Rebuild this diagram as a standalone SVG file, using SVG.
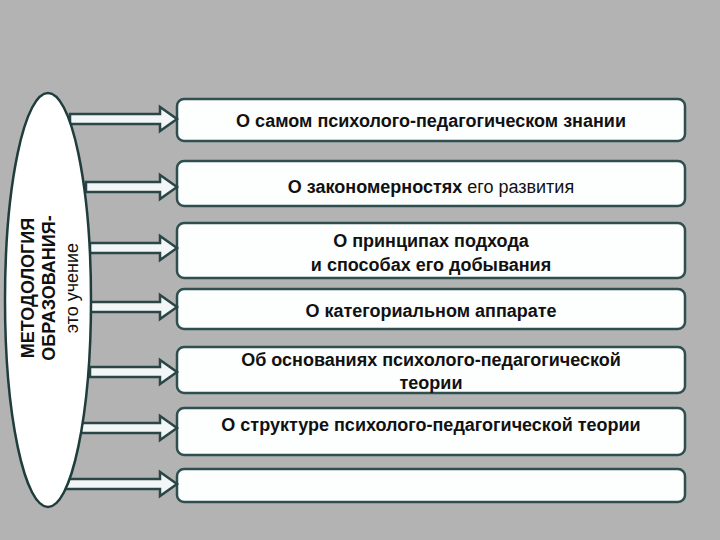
<svg xmlns="http://www.w3.org/2000/svg" width="720" height="540" viewBox="0 0 720 540">
<style>
.box{fill:#fdfefe;stroke:#2f4f4f;stroke-width:2.5}
.arr{fill:#f2f6f6;stroke:#2a4646;stroke-width:2.5;stroke-linejoin:miter}
text{font-family:"Liberation Sans",Arial,sans-serif;fill:#111;font-size:18px;text-anchor:middle;font-weight:bold}
.n{font-weight:normal}
</style>
<rect width="720" height="540" fill="#b3b3b3"/>
<g id="n1"><rect class="box" x="177" y="99" width="508" height="42" rx="7"/><text x="431" y="127">О самом психолого-педагогическом знании</text></g>
<g id="n2"><rect class="box" x="177" y="161" width="508" height="45" rx="7"/><text x="431" y="193" font-size="16">О закономерностях <tspan class="n">его развития</tspan></text></g>
<g id="n3"><rect class="box" x="177" y="223" width="508" height="55" rx="7"/><text x="431" y="247">О принципах подхода</text><text x="431" y="271">и способах его добывания</text></g>
<g id="n4"><rect class="box" x="177" y="289" width="508" height="40" rx="7"/><text x="431" y="317">О категориальном аппарате</text></g>
<g id="n5"><rect class="box" x="177" y="347" width="508" height="46" rx="7"/><text x="431" y="366">Об основаниях психолого-педагогической</text><text x="431" y="389">теории</text></g>
<g id="n6"><rect class="box" x="177" y="408" width="508" height="47" rx="7"/><text x="431" y="431">О структуре психолого-педагогической теории</text></g>
<g id="n7"><rect class="box" x="177" y="469" width="508" height="33" rx="7"/></g>
<g id="connectors">
<path class="arr" d="M70,114 H160 V107 L177,119 L160,131 V124 H70 Z"/>
<path class="arr" d="M86,182 H160 V175 L177,187 L160,199 V192 H86 Z"/>
<path class="arr" d="M90,243 H160 V236 L177,248 L160,260 V253 H90 Z"/>
<path class="arr" d="M90,302 H160 V295 L177,307 L160,319 V312 H90 Z"/>
<path class="arr" d="M90,367 H160 V360 L177,372 L160,384 V377 H90 Z"/>
<path class="arr" d="M78,423 H160 V416 L177,428 L160,440 V433 H78 Z"/>
<path class="arr" d="M62,479 H160 V472 L177,484 L160,496 V489 H62 Z"/>
</g>
<g id="ellipse">
<ellipse cx="48" cy="300" rx="43" ry="207" fill="#fff" stroke="#1f3d3d" stroke-width="2.5"/>
<g transform="translate(0,288) rotate(-90)">
<text x="0" y="34" font-size="20">МЕТОДОЛОГИЯ</text>
<text x="0" y="55" font-size="20">ОБРАЗОВАНИЯ-</text>
<text x="0" y="78" font-size="16" class="n">это учение</text>
</g>
</g>
</svg>
